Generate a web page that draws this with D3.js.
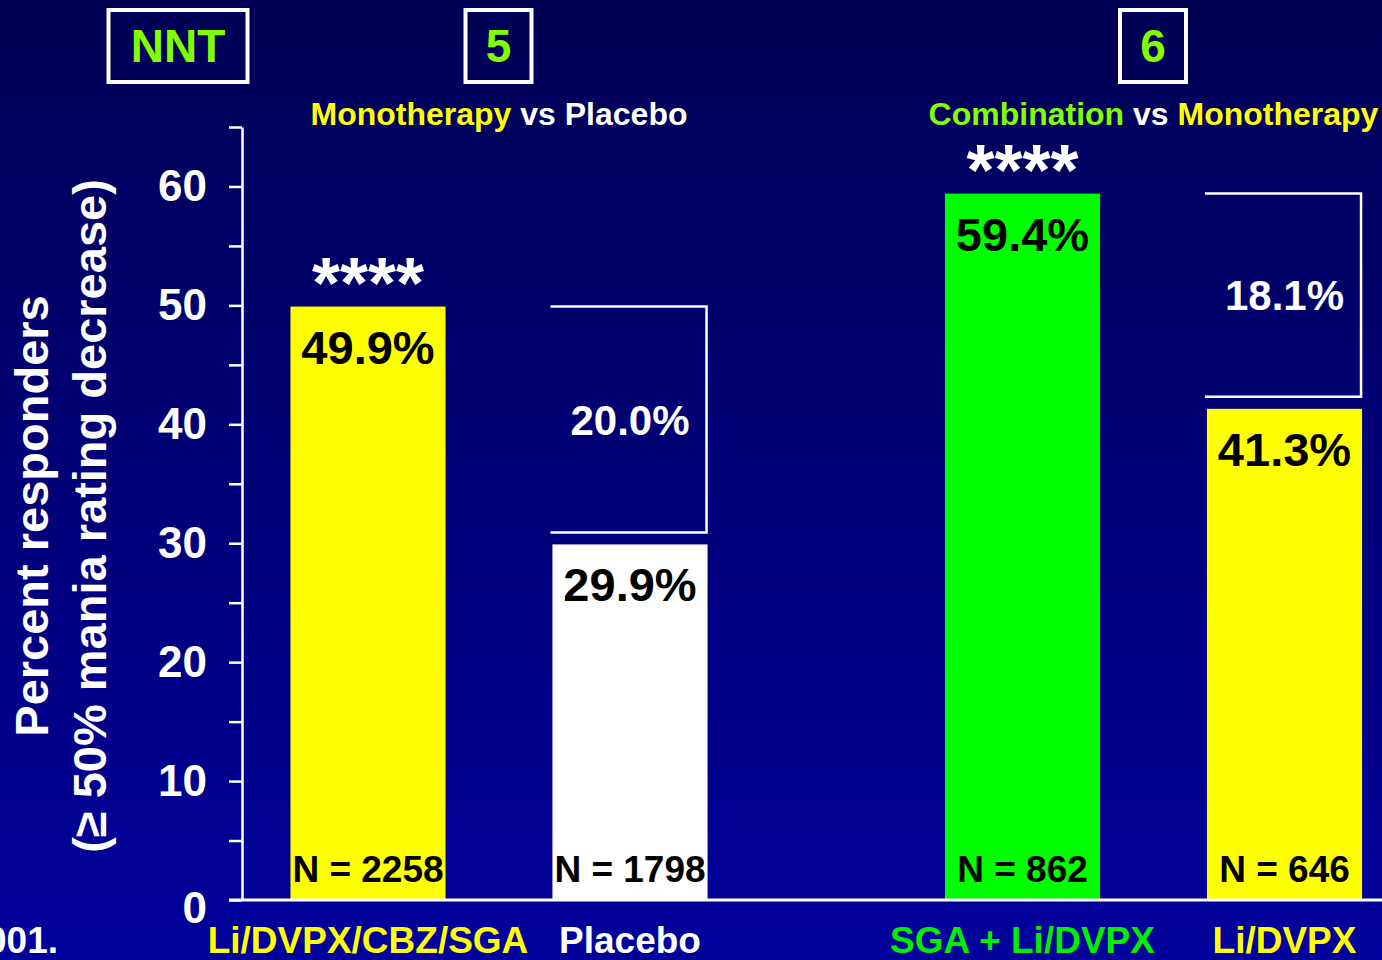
<!DOCTYPE html>
<html>
<head>
<meta charset="utf-8">
<script src="https://cdn.jsdelivr.net/npm/d3@7"></script>
<style>
  html, body { margin: 0; padding: 0; background: #000066; overflow: hidden; }
  svg { display: block; }
  text { font-family: "Liberation Sans", Arial, Helvetica, sans-serif; font-weight: bold; white-space: pre; }
</style>
</head>
<body>
<svg id="chart" width="1382" height="960"></svg>
<script>
// Responder rates (>= 50% decrease in mania rating) by treatment arm
const categories = ["Li/DVPX/CBZ/SGA", "Placebo", "SGA + Li/DVPX", "Li/DVPX"];
const comparisons = ["Monotherapy vs Placebo", "Combination vs Monotherapy"];
const categoryComparison = [comparisons[0], comparisons[0], comparisons[1], comparisons[1]];
const responders = [49.9, 29.9, 59.4, 41.3];
const sampleSizes = [2258, 1798, 862, 646];
const significance = ["****", "", "****", ""];
const differences = [20.0, 18.1];
const nntValues = [5, 6];
const yTickValues = [0, 10, 20, 30, 40, 50, 60];
const titleSegments = [["Monotherapy", " vs ", "Placebo"], ["Combination", " vs ", "Monotherapy"]];

// Palette
const YELLOW = "#ffff00", WHITE = "#ffffff", GREEN = "#00ff00", LIME = "#80ff00";
const barFill = { "Li/DVPX/CBZ/SGA": YELLOW, "Placebo": WHITE, "SGA + Li/DVPX": GREEN, "Li/DVPX": YELLOW };
const labelFill = { "Li/DVPX/CBZ/SGA": YELLOW, "Placebo": WHITE, "SGA + Li/DVPX": "#00ee00", "Li/DVPX": YELLOW };
const segmentFill = { "Monotherapy": YELLOW, "Combination": LIME, " vs ": WHITE, "Placebo": WHITE };

const W = 1382, H = 960;
const svg = d3.select("#chart");

// Background gradient
const defs = svg.append("defs");
const grad = defs.append("linearGradient").attr("id", "bg").attr("x1", 0).attr("y1", 0).attr("x2", 0).attr("y2", 1);
grad.append("stop").attr("offset", "0%").attr("stop-color", "#000055");
grad.append("stop").attr("offset", "100%").attr("stop-color", "#00009c");
svg.append("rect").attr("width", W).attr("height", H).attr("fill", "url(#bg)");

// Scales
const y = d3.scaleLinear().domain([0, 65]).range([900, 127]);
const xGroup = d3.scalePoint().domain(comparisons).range([499, 1153.5]);
const xInner = d3.scaleBand().domain([0, 1]).range([-262, 262]).paddingInner(0.408).paddingOuter(0.204);

const rows = categories.map((c, i) => {
  const g = categoryComparison[i];
  const idx = categoryComparison.slice(0, i).filter(v => v === g).length;
  return { cat: c, group: g, value: responders[i], n: sampleSizes[i], sig: significance[i],
           x: xGroup(g) + xInner(idx) };
});
const bw = xInner.bandwidth();

// Bars
svg.append("g").selectAll("rect").data(rows).join("rect")
  .attr("x", d => d.x).attr("width", bw)
  .attr("y", d => y(d.value)).attr("height", d => y(0) - y(d.value))
  .attr("fill", d => barFill[d.cat]);

// Y axis
const yAxis = d3.axisLeft(y)
  .tickValues(d3.range(0, 66, 5))
  .tickSize(13).tickSizeOuter(0).tickPadding(22)
  .tickFormat(d => yTickValues.includes(d) ? d : "");
const ax = svg.append("g").attr("transform", "translate(242,0)").call(yAxis);
ax.select(".domain").attr("stroke", WHITE).attr("stroke-width", 2.5);
ax.selectAll(".tick line").attr("stroke", WHITE).attr("stroke-width", 2.5);
ax.selectAll(".tick text").attr("fill", WHITE)
  .style("font-family", "'Liberation Sans', Arial, sans-serif").style("font-weight", "bold")
  .style("font-size", "44px");
// the zero label sits just below the baseline
ax.selectAll(".tick text").filter(d => d === 0).attr("dy", "0.5em");

// Baseline
svg.append("line").attr("x1", 229).attr("x2", W).attr("y1", y(0)).attr("y2", y(0))
  .attr("stroke", WHITE).attr("stroke-width", 3);

// Value labels inside bar tops
svg.append("g").selectAll("text").data(rows).join("text")
  .attr("x", d => d.x + bw / 2).attr("y", d => y(d.value) + 57)
  .attr("text-anchor", "middle").attr("fill", "#000").style("font-size", "47px")
  .text(d => d.value.toFixed(1) + "%");

// Sample sizes at bar bottoms
svg.append("g").selectAll("text").data(rows).join("text")
  .attr("x", d => d.x + bw / 2).attr("y", y(0) - 18)
  .attr("text-anchor", "middle").attr("fill", "#000").style("font-size", "37px")
  .text(d => "N = " + d.n);

// Significance markers
svg.append("g").selectAll("text").data(rows.filter(d => d.sig)).join("text")
  .attr("x", d => d.x + bw / 2).attr("y", d => y(d.value) + 1)
  .attr("text-anchor", "middle").attr("fill", WHITE).style("font-size", "72px")
  .text(d => d.sig);

// Category labels
svg.append("g").selectAll("text").data(rows).join("text")
  .attr("x", d => d.x + bw / 2).attr("y", 953)
  .attr("text-anchor", "middle").attr("fill", d => labelFill[d.cat]).style("font-size", "37px")
  .text(d => d.cat);

// Difference brackets on the comparator bar
comparisons.forEach((g, gi) => {
  const pair = rows.filter(d => d.group === g);
  const hi = pair[0], lo = pair[1];
  const x0 = lo.x - 2, x1 = lo.x + bw - 1;
  const yTop = y(hi.value), yBot = y(lo.value) - 12;
  svg.append("path")
    .attr("d", d3.line()([[x0, yTop], [x1, yTop], [x1, yBot], [x0, yBot]]))
    .attr("fill", "none").attr("stroke", WHITE).attr("stroke-width", 2.5);
  svg.append("text")
    .attr("x", lo.x + bw / 2).attr("y", (yTop + yBot) / 2).attr("dy", "0.36em")
    .attr("text-anchor", "middle").attr("fill", WHITE).style("font-size", "42px")
    .text(differences[gi].toFixed(1) + "%");
});

// Comparison titles
comparisons.forEach((g, gi) => {
  const t = svg.append("text").attr("x", xGroup(g)).attr("y", 125)
    .attr("text-anchor", "middle").style("font-size", "32px");
  titleSegments[gi].forEach(s => t.append("tspan").attr("fill", segmentFill[s]).text(s));
});

// NNT boxes
function nntBox(cx, w, label) {
  svg.append("rect").attr("x", cx - w / 2).attr("y", 10).attr("width", w).attr("height", 72)
    .attr("fill", "none").attr("stroke", WHITE).attr("stroke-width", 4);
  svg.append("text").attr("x", cx).attr("y", 62).attr("text-anchor", "middle")
    .attr("fill", LIME).style("font-size", "46px").text(label);
}
nntBox(178, 139, "NNT");
comparisons.forEach((g, gi) => nntBox(xGroup(g) - 0.5, 66, String(nntValues[gi])));

// Y axis title
const yTitle = svg.append("g").attr("transform", "translate(0,516) rotate(-90)");
yTitle.append("text").attr("x", 0).attr("y", 48).attr("text-anchor", "middle")
  .attr("fill", WHITE).style("font-size", "47px").text("Percent responders");
yTitle.append("text").attr("x", 0).attr("y", 106).attr("text-anchor", "middle")
  .attr("fill", WHITE).style("font-size", "47px").text("(≥ 50% mania rating decrease)");

// Citation tail
svg.append("text").attr("x", 58).attr("y", 953).attr("text-anchor", "end")
  .attr("fill", WHITE).style("font-size", "37px").text("001.");
</script>
</body>
</html>
